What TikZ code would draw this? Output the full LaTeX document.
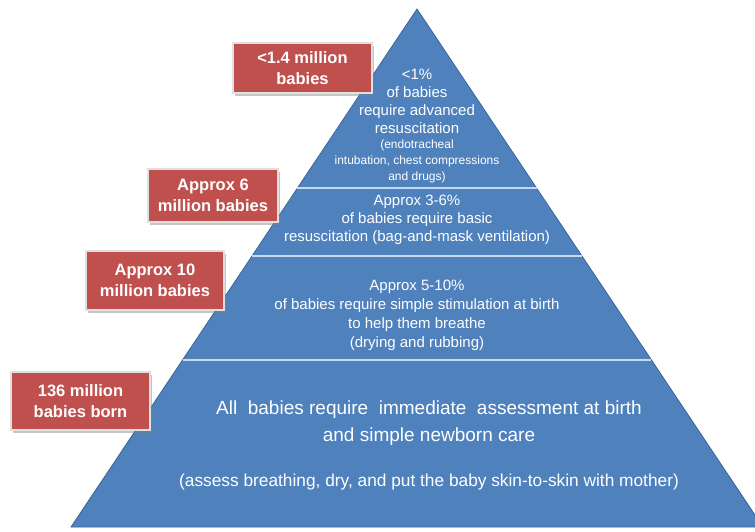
\documentclass[tikz,border=0pt]{standalone}
\usepackage{fontspec}
\setmainfont{Liberation Sans}
\usetikzlibrary{calc,shadows}
\definecolor{pyr}{HTML}{4F81BD}
\definecolor{pyrline}{HTML}{3A6596}
\definecolor{divl}{HTML}{C6D9F1}
\definecolor{redbox}{HTML}{C0504D}
\tikzset{
  labelbox/.style={fill=redbox, draw=white!88!black, line width=1.5pt, text=white,
    font=\fontsize{16.5}{21}\selectfont\bfseries, align=center, inner sep=0pt,
    drop shadow={shadow xshift=2pt, shadow yshift=-2.5pt, opacity=.45, fill=gray}},
  ptext/.style={text=white, align=center, inner sep=0pt},
  divider/.style={divl, line width=1.6pt}
}
\begin{document}
\begin{tikzpicture}[x=1pt,y=-1pt]
\useasboundingbox (0,0) rectangle (755,531);
\coordinate (apex) at (417,9);
\coordinate (bl) at (71,527);
\coordinate (br) at (763,527);
\begin{scope}
\clip (0,0) rectangle (755,531);
\fill[pyr, draw=pyrline, line width=0.8pt] (apex) -- (bl) -- (br) -- cycle;
\draw[divider] ($(apex)!0.3456!(bl)$) -- ($(apex)!0.3456!(br)$);
\draw[divider] ($(apex)!0.4768!(bl)$) -- ($(apex)!0.4768!(br)$);
\draw[divider] ($(apex)!0.6776!(bl)$) -- ($(apex)!0.6776!(br)$);
\end{scope}
% pyramid texts
\node[ptext, font=\fontsize{15}{18}\selectfont] (t1a) at (417,101) {<1\%\\of babies\\require advanced\\resuscitation};
\node[ptext, font=\fontsize{12}{16}\selectfont] (t1b) at (417,161) {(endotracheal\\intubation, chest compressions\\and drugs)};
\node[ptext, font=\fontsize{15}{18}\selectfont] (t2) at (417,220) {Approx 3-6\%\\of babies require basic\\resuscitation (bag-and-mask ventilation)};
\node[ptext, font=\fontsize{15}{19}\selectfont] (t3) at (417,315) {Approx 5-10\%\\of babies require simple stimulation at birth\\to help them breathe\\(drying and rubbing)};
\node[ptext, font=\fontsize{19}{27}\selectfont] (t4a) at (429,423.5) {All\ \ babies require\ \ immediate\ \ assessment at birth\\and simple newborn care};
\node[ptext, font=\fontsize{17.3}{20}\selectfont] (t4b) at (429,482) {(assess breathing, dry, and put the baby skin-to-skin with mother)};
% red labels
\node[labelbox, minimum width=139pt, minimum height=50pt] (b1) at (302.5,68) {<1.4 million\\babies};
\node[labelbox, minimum width=130pt, minimum height=53pt] (b2) at (213,195.5) {Approx 6\\million babies};
\node[labelbox, minimum width=138pt, minimum height=59pt] (b3) at (155,280.5) {Approx 10\\million babies};
\node[labelbox, minimum width=139pt, minimum height=58pt] (b4) at (80.5,401) {136 million\\babies born};
\end{tikzpicture}
\end{document}
